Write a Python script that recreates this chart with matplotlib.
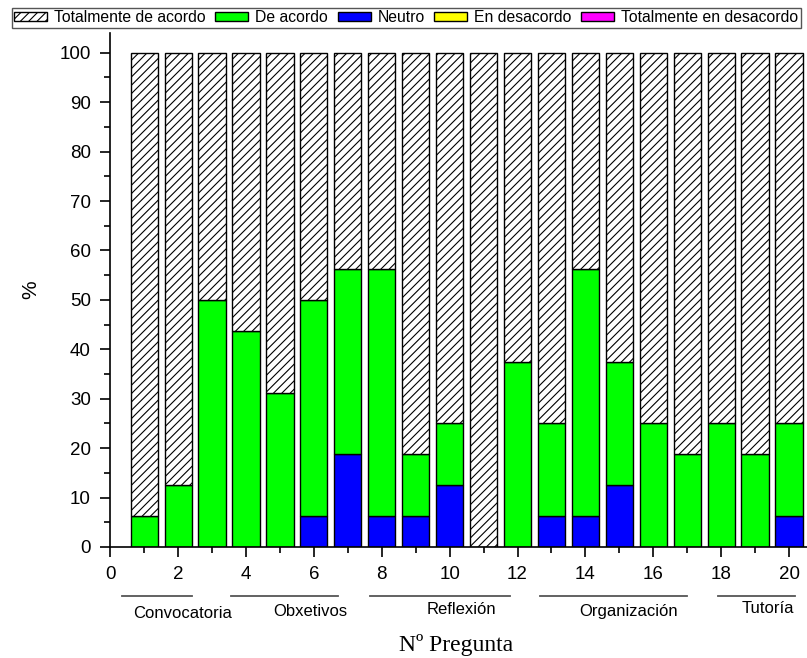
import numpy as np
import matplotlib
matplotlib.use("Agg")
import matplotlib.pyplot as plt
import matplotlib.transforms as mtransforms
from matplotlib.ticker import MultipleLocator

plt.rcParams['font.family'] = ['Liberation Sans', 'DejaVu Sans']
plt.rcParams['hatch.linewidth'] = 0.8

# Data (% of answers per question)
preguntas = np.arange(1, 21)
tot_en_desacordo = [0] * 20
en_desacordo = [0] * 20
neutro = [0, 0, 0, 0, 0, 6.25, 18.75, 6.25, 6.25, 12.5,
          0, 0, 6.25, 6.25, 12.5, 0, 0, 0, 0, 6.25]
de_acordo = [6.25, 12.5, 50, 43.75, 31.25, 43.75, 37.5, 50, 12.5, 12.5,
             0, 37.5, 18.75, 50, 25, 25, 18.75, 25, 18.75, 18.75]
tot_de_acordo = [100 - a - b - c - d for a, b, c, d in
                 zip(tot_en_desacordo, en_desacordo, neutro, de_acordo)]

grupos = ['Convocatoria', 'Obxetivos', 'Reflexión', 'Organización', 'Tutoría']

# Layout of the group annotations under the axis (x in data units)
grupo_lineas = [(0.35, 2.41), (3.56, 6.71), (7.65, 11.78), (12.66, 16.99), (17.9, 20.18)]
grupo_texto_x = [2.12, 5.89, 10.36, 15.28, 19.38]
grupo_texto_y = [0.067, 0.070, 0.073, 0.071, 0.075]

fig = plt.figure(figsize=(8.07, 6.58), dpi=100)
ax = fig.add_axes([0.1366, 0.1687, 0.8634, 0.7812])

series = [
    ('Totalmente en desacordo', tot_en_desacordo, '#FF00FF', None),
    ('En desacordo', en_desacordo, '#FFFF00', None),
    ('Neutro', neutro, '#0000FF', None),
    ('De acordo', de_acordo, '#00FF00', None),
    ('Totalmente de acordo', tot_de_acordo, 'white', '////'),
]

bottom = np.zeros(len(preguntas))
bars = {}
for name, vals, color, hatch in series:
    vals = np.array(vals, dtype=float)
    bars[name] = ax.bar(preguntas, vals, width=0.8, bottom=bottom, color=color,
                        edgecolor='black', linewidth=1.0, hatch=hatch, label=name)
    bottom += vals

ax.set_xlim(0, 20.53)
ax.set_ylim(0, 104)
ax.xaxis.set_major_locator(MultipleLocator(2))
ax.xaxis.set_minor_locator(MultipleLocator(1))
ax.yaxis.set_minor_locator(MultipleLocator(5))
ax.set_yticks(np.arange(0, 101, 10))

ax.spines['top'].set_visible(False)
ax.spines['right'].set_visible(False)
ax.spines['left'].set_linewidth(1.2)
ax.spines['bottom'].set_linewidth(1.2)
ax.tick_params(which='major', direction='out', length=7, width=1.2,
               labelsize=13.5, pad=7)
ax.tick_params(which='minor', direction='out', length=4, width=1.2)

ax.set_ylabel('%', fontsize=15)
ax.yaxis.set_label_coords(-0.1, 0.5)

# Group brackets and labels
trans = mtransforms.blended_transform_factory(ax.transData, fig.transFigure)
for (x0, x1), tx, ty, g in zip(grupo_lineas, grupo_texto_x, grupo_texto_y, grupos):
    ax.plot([x0, x1], [0.0942, 0.0942], color='#555555', linewidth=1.3,
            transform=trans, clip_on=False)
    ax.text(tx, ty, g, transform=trans, ha='center', va='center', fontsize=12)

fig.text(0.565, 0.02, 'Nº Pregunta', ha='center', va='center', fontsize=17,
         family=['Liberation Serif', 'DejaVu Serif'])

order = ['Totalmente de acordo', 'De acordo', 'Neutro', 'En desacordo',
         'Totalmente en desacordo']
leg = fig.legend([bars[n] for n in order], order, loc='upper left',
                 bbox_to_anchor=(12 / 807, 1 - 8 / 658), ncol=5, fontsize=11.3,
                 handlelength=2.1, handleheight=0.5, handletextpad=0.45,
                 columnspacing=0.6, borderpad=0.15, borderaxespad=0,
                 frameon=True, fancybox=False, framealpha=1)
leg.get_frame().set_edgecolor('#555555')
leg.get_frame().set_linewidth(1.0)

plt.savefig('out.png', dpi=100)
